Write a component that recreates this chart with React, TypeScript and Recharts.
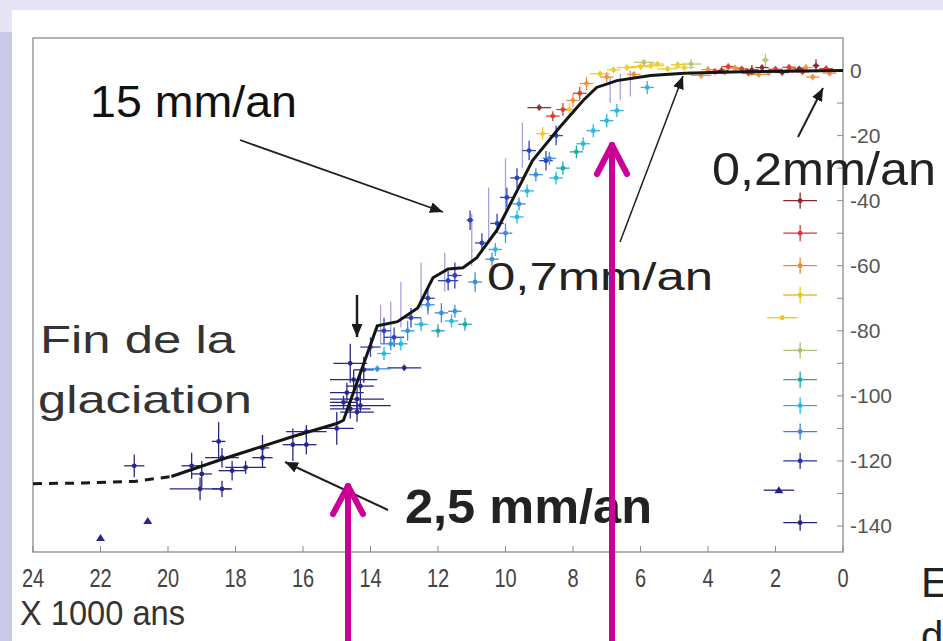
import React from 'react'
import { ComposedChart, Scatter, XAxis, YAxis, ErrorBar, ReferenceArea } from 'recharts'

// axes
const XTICKS = [0, 2, 4, 6, 8, 10, 12, 14, 16, 18, 20, 22, 24]
const YTICKS = [-140, -130, -120, -110, -100, -90, -80, -70, -60, -50, -40, -30, -20, -10, 0]

// sea-level curve, kyr BP / m
const curveDashed = [[24, -127], [22.5, -126.8], [21, -126.3], [19.9, -124.8]]
const curveSolid = [
  [19.9, -124.8], [18.4, -119.5], [16.3, -112.5], [15, -108.5], [14.8, -107.5], [14.3, -93],
  [13.8, -78.5], [13.2, -77.2], [12.6, -73], [12.15, -63.7], [11.7, -61], [11.26, -60.6],
  [10.85, -57.5], [10.25, -49], [9.2, -27.7], [8.4, -17.5], [7.7, -9.2], [7.3, -5.2],
  [6.7, -3.1], [5.7, -1.5], [4.7, -0.8], [3, -0.4], [0, 0],
]

// samples: [age, level, age error, level error]
const navyPts = [
  [21.0, -121.5, 0.3, 3.5], [19.3, -121.5, 0.3, 4], [19.0, -124, 0.3, 4], [19.05, -128.6, 0.9, 3.5],
  [18.4, -128.6, 0.3, 2.5], [18.5, -114, 0.2, 6], [18.4, -119, 0.5, 3], [18.1, -123, 0.4, 3],
  [17.7, -122, 0.6, 2], [17.2, -119, 0.3, 3], [17.2, -116, 0.2, 4], [16.3, -115, 0.3, 5],
  [15.9, -115, 0.3, 3], [15.0, -110, 0.5, 5], [15.9, -111, 0.6, 2], [14.6, -104, 0.6, 3],
  [14.4, -101, 0.8, 4], [14.7, -99, 0.5, 3], [14.3, -97, 0.4, 5], [14.5, -95, 0.7, 3],
  [14.2, -92, 0.3, 4], [14.6, -90, 0.5, 6], [14.4, -105, 0.5, 3], [14.8, -102, 0.4, 2],
  [14.3, -103, 0.9, 2], [13.0, -91.4, 0.5, 1],
]
const navyTri = [[22.0, -143.7, 0, 0], [20.6, -138.5, 0, 0]]
const bluePts = [
  [14.0, -85, 0.3, 3], [13.6, -80, 0.2, 4], [13.3, -82, 0.3, 3], [12.8, -76, 0.3, 3],
  [12.3, -70, 0.2, 4], [11.7, -64.6, 0.3, 3], [11.5, -63, 0.2, 4], [11.05, -46, 0.1, 3],
  [10.7, -53, 0.2, 3], [10.25, -47, 0.2, 3], [9.96, -39, 0.2, 3], [9.66, -33, 0.2, 3],
  [9.3, -24.6, 0.2, 3], [8.8, -27.7, 0.2, 3], [8.5, -20, 0.2, 3],
]
const lightBluePts = [
  [13.4, -84, 0.3, 2], [12.9, -80, 0.2, 3], [12.3, -72, 0.2, 3], [11.9, -74.5, 0.2, 3],
  [11.5, -74, 0.2, 2], [10.9, -65, 0.2, 3], [10.4, -58, 0.2, 2], [10.0, -50, 0.2, 3],
  [9.6, -41, 0.2, 2], [9.1, -32, 0.2, 2], [8.7, -27, 0.2, 2], [13.8, -91.7, 0.4, 1],
]
const cyanPts = [
  [13.6, -87, 0.2, 2], [13.1, -84, 0.2, 2], [12.5, -78, 0.2, 2], [11.6, -77, 0.2, 2],
  [9.66, -45, 0.2, 2], [9.36, -37, 0.2, 2], [8.5, -33, 0.2, 2], [7.7, -22.5, 0.2, 2],
  [7.4, -18.5, 0.2, 2], [7.0, -15.4, 0.2, 2], [6.7, -12.3, 0.2, 2], [5.8, -5.2, 0.2, 2],
  [10.3, -55, 0.2, 2],
]
const tealPts = [[11.2, -78, 0.2, 2], [12.0, -80, 0.2, 2], [7.9, -25, 0.2, 2], [8.3, -30, 0.2, 2]]
const limitPts = [
  [13.7, -78, 0, 6], [13.4, -77, 0, 6], [13.1, -72, 0, 7], [12.5, -66, 0, 7], [11.8, -62, 0, 6],
  [11.0, -52, 0, 8], [10.5, -44, 0, 8], [10.0, -35, 0, 8], [9.5, -23, 0, 7], [6.9, -6, 0, 4],
  [6.6, -5, 0, 4], [6.3, -4, 0, 4],
]
const yellowPts = [
  [6.4, 0.9, 0.3, 1], [5.7, 1.5, 0.4, 1], [4.7, 0.9, 0.3, 1], [8.9, -19.4, 0.2, 2],
  [7.2, -1, 0.3, 1], [6.0, 1.2, 0.3, 1], [5.2, 0.5, 0.3, 1], [6.8, 0.2, 0.2, 1],
  [5.5, 2.0, 0.2, 1], [4.9, 1.8, 0.2, 1], [8.1, -12, 0.2, 2],
]
const orangePts = [
  [8.0, -9.2, 0.2, 2], [7.6, -4, 0.2, 2], [3.5, -0.5, 0.3, 1], [2.5, -1.2, 0.3, 1],
  [1.5, 0.2, 0.2, 1], [4.2, -1.5, 0.3, 1], [0.9, -2, 0.2, 1], [3.2, 0.8, 0.2, 1],
  [2.2, -0.6, 0.2, 1], [1.1, 0.9, 0.2, 1], [4.0, 0.3, 0.2, 1], [7.0, -2.0, 0.2, 1.5],
  [6.2, -1.2, 0.2, 1], [0.4, -0.8, 0.2, 1],
]
const redPts = [
  [8.3, -12, 0.2, 2], [7.8, -7, 0.2, 2], [3.0, 0.5, 0.2, 1], [2.0, 0.4, 0.2, 1],
  [1.2, -0.4, 0.2, 1], [0.5, 0.6, 0.2, 1], [3.8, -0.3, 0.2, 1], [2.8, -0.8, 0.2, 1],
  [1.6, 1.0, 0.2, 1], [3.4, 1.2, 0.2, 1], [8.6, -14, 0.2, 1.5],
]
const darkRedPts = [
  [9.0, -11.4, 0.35, 1], [2.7, 0.2, 0.2, 1.5], [0.8, 1.5, 0.1, 2], [1.8, -0.6, 0.2, 1],
  [3.6, 0.0, 0.2, 1], [2.4, 0.9, 0.2, 1], [1.3, 0.5, 0.2, 1],
]
const olivePts = [[5.9, 2.5, 0.3, 1], [4.5, 2, 0.3, 1.5], [2.3, 3.2, 0.1, 2]]

// key column at the right
const keyLevels = [-40, -50, -60, -69, -76, -86, -95, -103, -111, -120, -129, -139]
const keyAges = [1.27, 1.27, 1.27, 1.27, 1.8, 1.27, 1.27, 1.27, 1.27, 1.27, 1.9, 1.27]
const keyColors = ['#8a2a2a', '#d23a36', '#e88a3a', '#e6c22a', '#f2c414', '#a8c070', '#22a8a8', '#26b4e8', '#3a86d8', '#2a34a0', '#23237a', '#23237a']

const toPts = (arr: number[][]) => arr.map(([x, y, ex, ey]) => ({ x, y, ex, ey }))

const series = [
  { pts: limitPts, color: '#a4a4da', kind: 'none' },
  { pts: navyPts, color: '#27278a', kind: 'dot' },
  { pts: navyTri, color: '#27278a', kind: 'tri' },
  { pts: bluePts, color: '#2e42b8', kind: 'dot' },
  { pts: lightBluePts, color: '#3b8ee0', kind: 'dot' },
  { pts: cyanPts, color: '#27b8e8', kind: 'dot' },
  { pts: tealPts, color: '#22a8a8', kind: 'dot' },
  { pts: olivePts, color: '#b0c878', kind: 'dot' },
  { pts: yellowPts, color: '#f0cc2a', kind: 'dot' },
  { pts: orangePts, color: '#f09040', kind: 'dot' },
  { pts: redPts, color: '#d84030', kind: 'dot' },
  { pts: darkRedPts, color: '#8a3030', kind: 'dot' },
]

const keyPts = keyLevels.map((y, i) => ({ x: keyAges[i], y, ex: i === 4 || i === 10 ? 0.45 : 0.5, ey: i === 4 || i === 10 ? 0 : 2.5, c: keyColors[i] }))

const SANS = "'Liberation Sans', Arial, sans-serif"

const shapeFor = (color: string, kind: string) => (p: any) => {
  if (kind === 'none') return <g />
  if (kind === 'tri')
    return <path d={`M${p.cx},${p.cy - 4} L${p.cx + 4.5},${p.cy + 3} L${p.cx - 4.5},${p.cy + 3} Z`} fill={color} />
  return <circle cx={p.cx} cy={p.cy} r={2.4} fill={color} />
}

// narrow-looking x tick labels
const AgeTick = (p: any) => (
  <g transform={`translate(${p.x},${p.y})`}>
    <text x={0} y={0} dy={18} textAnchor="middle" transform="scale(0.8,1)" fontSize={25} fill="#444" fontFamily={SANS}>
      {p.payload.value}
    </text>
  </g>
)

function SeaLevel() {
  return (
    <ComposedChart width={943} height={641} margin={{ top: 38, right: 0, bottom: 49, left: 33 }}>
      <XAxis
        xAxisId="b" type="number" dataKey="x" domain={[0, 24]} reversed ticks={XTICKS} interval={0}
        axisLine={false} tickSize={-6} tickMargin={23} height={40} tickLine={{ stroke: '#8a8a8a' }}
        tick={<AgeTick />} allowDataOverflow
      />
      <XAxis
        xAxisId="t" orientation="top" type="number" dataKey="x" domain={[0, 24]} reversed ticks={XTICKS}
        axisLine={false} tick={false} tickSize={-6} height={0} tickLine={{ stroke: '#8a8a8a' }}
      />
      <YAxis
        yAxisId="r" orientation="right" type="number" dataKey="y" domain={[-148, 10]} ticks={YTICKS}
        interval={0} axisLine={false} tickSize={-6} tickMargin={13} width={100} allowDataOverflow
        tickLine={{ stroke: '#8a8a8a' }} tickFormatter={(v: number) => (v % 20 === 0 ? String(v) : '')}
        tick={{ fill: '#555', fontSize: 21, fontFamily: SANS }}
      />
      <YAxis
        yAxisId="l" orientation="left" type="number" dataKey="y" domain={[-148, 10]} ticks={YTICKS}
        axisLine={false} tick={false} tickSize={-6} width={0} tickLine={{ stroke: '#8a8a8a' }}
      />
      <ReferenceArea xAxisId="b" yAxisId="r" x1={0} x2={24} y1={-148} y2={10} fill="none" stroke="#9a9a9a" strokeWidth={1.5} ifOverflow="visible" />

      {series.map((s, i) => (
        <Scatter key={i} xAxisId="b" yAxisId="r" data={toPts(s.pts)} shape={shapeFor(s.color, s.kind)} isAnimationActive={false}>
          <ErrorBar dataKey="ey" direction="y" width={0} stroke={s.color} strokeWidth={1.3} isAnimationActive={false} />
          <ErrorBar dataKey="ex" direction="x" width={0} stroke={s.color} strokeWidth={1.3} isAnimationActive={false} />
        </Scatter>
      ))}

      {keyPts.map((k, i) => (
        <Scatter key={'k' + i} xAxisId="b" yAxisId="r" data={[k]} shape={shapeFor(k.c, i === 10 ? 'tri' : 'dot')} isAnimationActive={false}>
          <ErrorBar dataKey="ey" direction="y" width={0} stroke={k.c} strokeWidth={1.3} isAnimationActive={false} />
          <ErrorBar dataKey="ex" direction="x" width={0} stroke={k.c} strokeWidth={1.3} isAnimationActive={false} />
        </Scatter>
      ))}

      <Scatter
        xAxisId="b" yAxisId="r" data={toPts(curveDashed)} shape={() => <g />} isAnimationActive={false}
        line={{ stroke: '#1a1a1a', strokeWidth: 3, strokeDasharray: '9 7' }}
      />
      <Scatter
        xAxisId="b" yAxisId="r" data={toPts(curveSolid)} shape={() => <g />} isAnimationActive={false}
        line={{ stroke: '#151515', strokeWidth: 3 }}
      />
    </ComposedChart>
  )
}

function Notes() {
  return (
    <svg width={943} height={641} style={{ position: 'absolute', left: 0, top: 0, pointerEvents: 'none' }}>
      <defs>
        <marker id="ah" markerUnits="userSpaceOnUse" markerWidth={13} markerHeight={11} refX={13} refY={5.5} orient="auto">
          <path d="M0,0 L13,5.5 L0,11 Z" fill="#1a1a1a" />
        </marker>
      </defs>
      <g stroke="#1f1f1f" fill="none">
        <line x1={240} y1={140} x2={443} y2={212} strokeWidth={1.8} markerEnd="url(#ah)" />
        <line x1={620} y1={242} x2={683} y2={76} strokeWidth={1.5} markerEnd="url(#ah)" />
        <line x1={798} y1={137} x2={823} y2={88} strokeWidth={2} markerEnd="url(#ah)" />
        <line x1={388} y1={510} x2={285} y2={462} strokeWidth={2} markerEnd="url(#ah)" />
        <line x1={357} y1={295} x2={357} y2={337} strokeWidth={2.5} markerEnd="url(#ah)" />
      </g>
      <g fontFamily={SANS}>
        <text x={90} y={117} fontSize={44} fill="#111" textLength={207} lengthAdjust="spacingAndGlyphs">15 mm/an</text>
        <text x={712} y={185} fontSize={46} fill="#222" textLength={224} lengthAdjust="spacingAndGlyphs">0,2mm/an</text>
        <text x={487} y={290} fontSize={38} fill="#222" textLength={226} lengthAdjust="spacingAndGlyphs">0,7mm/an</text>
        <text x={40} y={353} fontSize={39} fill="#333" textLength={195} lengthAdjust="spacingAndGlyphs">Fin de la</text>
        <text x={38} y={413} fontSize={39} fill="#333" textLength={214} lengthAdjust="spacingAndGlyphs">glaciation</text>
        <text x={405} y={523} fontSize={48} fontWeight="bold" fill="#222" textLength={247} lengthAdjust="spacingAndGlyphs">2,5 mm/an</text>
        <text x={20} y={625} fontSize={35} fill="#333" textLength={165} lengthAdjust="spacingAndGlyphs">X 1000 ans</text>
        <text x={921} y={597} fontSize={42} fill="#222">E</text>
        <text x={921} y={650} fontSize={40} fill="#222">d</text>
      </g>
      <g stroke="#cc0099" strokeWidth={6} strokeLinecap="round" strokeLinejoin="round" fill="none">
        <line x1={348} y1={645} x2={348} y2={486} />
        <polyline points="333,514 348,486 363,514" />
        <line x1={612} y1={645} x2={612} y2={145} />
        <polyline points="597,174 612,145 627,174" />
      </g>
    </svg>
  )
}

export default function App() {
  return (
    <div style={{ position: 'absolute', left: 0, top: 0, width: 943, height: 641, background: '#fff', overflow: 'hidden' }}>
      <div style={{ position: 'absolute', left: 0, top: 0, width: 943, height: 10, background: '#e4e4f5' }} />
      <div style={{ position: 'absolute', left: 0, top: 0, width: 12, height: 32, background: '#e4e4f5' }} />
      <div style={{ position: 'absolute', left: 0, top: 32, width: 12, height: 609, background: '#c9c9ea' }} />
      <div style={{ position: 'absolute', left: 0, top: 0 }}>
        <SeaLevel />
      </div>
      <Notes />
    </div>
  )
}
